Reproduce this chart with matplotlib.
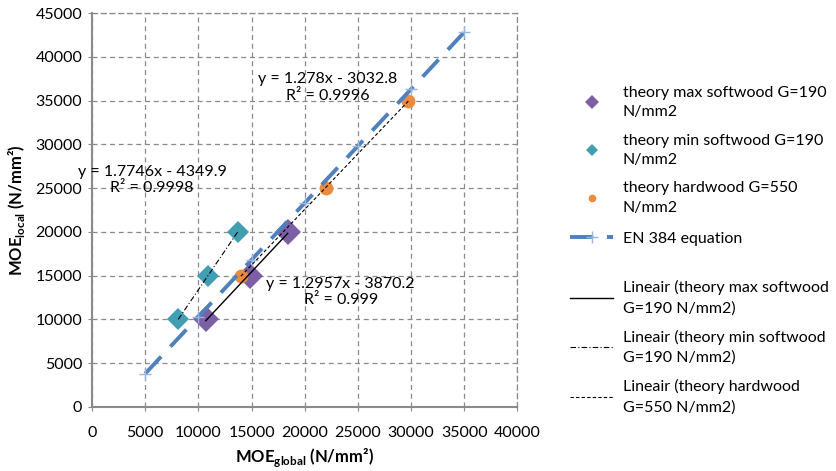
import numpy as np
import matplotlib.pyplot as plt

plt.rcParams["font.family"] = ["Lato", "DejaVu Sans"]
plt.rcParams["mathtext.fontset"] = "custom"
plt.rcParams["mathtext.rm"] = "Lato"
plt.rcParams["mathtext.bf"] = "Lato:bold"

# data
max_soft_x = [10700, 14900, 18400]
max_soft_y = [10000, 15000, 20000]
min_soft_x = [8100, 10900, 13700]
min_soft_y = [10000, 15000, 20000]
hard_x = [14000, 22000, 29750]
hard_y = [15000, 25000, 35000]
en384_x = [5000, 10000, 15000, 20000, 25000, 30000, 35000]
en384_y = [3810, 10310, 16810, 23310, 29810, 36310, 42810]

eq_max = "y = 1.2957x - 3870.2\nR² = 0.999"
eq_min = "y = 1.7746x - 4349.9\nR² = 0.9998"
eq_hard = "y = 1.278x - 3032.8\nR² = 0.9996"

purple = "#7d5fa6"
teal = "#409fb3"
orange = "#ea8b3e"
blue = "#4f81bd"
grey = "#8a8a8a"

fig = plt.figure(figsize=(8.37, 4.71), dpi=100)
ax = fig.add_axes([0.110, 0.136, 0.508, 0.836])


def trend(ax, xs, ys, **kw):
    k, b = np.polyfit(xs, ys, 1)
    xx = np.array([min(xs), max(xs)])
    return ax.plot(xx, k * xx + b, color="black", **kw)[0]


h_max = ax.plot(max_soft_x, max_soft_y, "D", color=purple, ms=13.5, mew=0,
                label="theory max softwood G=190\nN/mm2")[0]
h_min = ax.plot(min_soft_x, min_soft_y, "D", color=teal, ms=11.5, mew=0,
                label="theory min softwood G=190\nN/mm2")[0]
h_hard = ax.plot(hard_x, hard_y, "o", color=orange, ms=10, mew=0,
                 label="theory hardwood G=550\nN/mm2")[0]
h_en = ax.plot(en384_x, en384_y, color=blue, lw=2.8, dashes=(6, 3.5),
               marker="+", ms=9, mec="#9bb7dc", mew=1.0,
               label="EN 384 equation")[0]

t_max = trend(ax, max_soft_x, max_soft_y, lw=1.0,
              label="Lineair (theory max softwood\nG=190 N/mm2)")
t_min = trend(ax, min_soft_x, min_soft_y, lw=0.8, dashes=(5, 2, 1, 2),
              label="Lineair (theory min softwood\nG=190 N/mm2)")
t_hard = trend(ax, hard_x, hard_y, lw=0.8, dashes=(3, 2),
               label="Lineair (theory hardwood\nG=550 N/mm2)")

fs = 11.5
ax.text(22200, 36500, eq_hard, ha="center", va="center", fontsize=fs,
        multialignment="center")
ax.text(5650, 25900, eq_min, ha="center", va="center", fontsize=fs,
        multialignment="center")
ax.text(23400, 13100, eq_max, ha="center", va="center", fontsize=fs,
        multialignment="center")

ax.set_xlim(0, 40000)
ax.set_ylim(0, 45000)
ax.set_xticks(np.arange(0, 40001, 5000))
ax.set_yticks(np.arange(0, 45001, 5000))
ax.tick_params(labelsize=fs, length=3, color=grey)
ax.tick_params(axis="x", pad=11)
ax.tick_params(axis="y", pad=4)
ax.grid(True, color=grey, lw=0.9, dashes=(4, 3))
ax.set_axisbelow(True)
for s in ["top", "right"]:
    ax.spines[s].set_linestyle((0, (4, 3)))
    ax.spines[s].set_color(grey)
    ax.spines[s].set_linewidth(0.9)
for s in ["left", "bottom"]:
    ax.spines[s].set_color(grey)
    ax.spines[s].set_linewidth(1.5)

ax.set_xlabel(r"MOE$_{\mathbf{global}}$ (N/mm²)", fontsize=12, fontweight="bold",
              labelpad=4)
ax.set_ylabel(r"MOE$_{\mathbf{local}}$ (N/mm²)", fontsize=12, fontweight="bold",
              labelpad=6)

leg_kw = dict(loc="upper left", frameon=False, fontsize=fs, borderpad=0,
              borderaxespad=0, handlelength=2.7, handletextpad=0.6,
              labelspacing=0.9, numpoints=1)
legs = [
    fig.legend(handles=[h_max, h_min, h_hard], bbox_to_anchor=(0.681, 0.818),
               markerscale=0.55, **leg_kw),
    fig.legend(handles=[h_en], bbox_to_anchor=(0.681, 0.508), **leg_kw),
    fig.legend(handles=[t_max, t_min, t_hard], bbox_to_anchor=(0.681, 0.405), **leg_kw),
]
for leg in legs:
    for t in leg.get_texts():
        t.set_linespacing(1.5)

fig.savefig("out.png", dpi=100)
